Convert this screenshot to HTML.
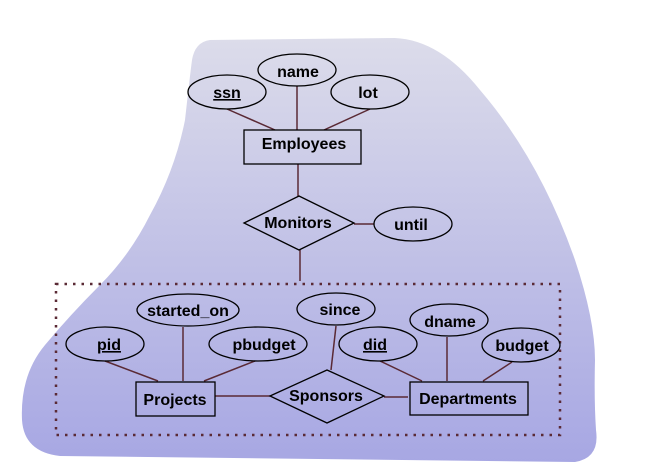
<!DOCTYPE html>
<html><head><meta charset="utf-8"><style>
html,body{margin:0;padding:0;background:#fff;width:659px;height:469px;overflow:hidden}
svg{display:block}
text{font-family:"Liberation Sans",Arial,sans-serif;font-weight:bold;font-size:16px;fill:#000}
</style></head><body>
<svg width="659" height="469" viewBox="0 0 659 469" xmlns="http://www.w3.org/2000/svg">
<defs>
<linearGradient id="g" x1="0" y1="0" x2="0" y2="1">
<stop offset="0" stop-color="#dcdcea"/>
<stop offset="1" stop-color="#a7a7e3"/>
</linearGradient>
</defs>
<path d="M210,40 L395,38 Q440,40 480,90 Q540,160 575,260 Q595,320 595,360 Q594,400 596,430 Q600,458 575,462 L60,456 Q24,452 22,420 Q20,375 45,345 Q70,315 100,285 Q130,255 150,215 Q175,170 185,120 Q190,75 192,60 Q195,42 210,40 Z" fill="url(#g)"/>
<g stroke="#5a2a35" stroke-width="1.5" fill="none">
<line x1="227" y1="109" x2="275" y2="130"/>
<line x1="297" y1="86" x2="297" y2="130"/>
<line x1="370" y1="109" x2="324" y2="130"/>
<line x1="298" y1="164" x2="298" y2="196"/>
<line x1="354" y1="224" x2="374" y2="224"/>
<line x1="300" y1="250" x2="300" y2="281"/>
<line x1="105" y1="361" x2="158" y2="381"/>
<line x1="183" y1="327" x2="183" y2="381"/>
<line x1="255" y1="361" x2="204" y2="381"/>
<line x1="215" y1="396" x2="270" y2="396"/>
<line x1="336" y1="326" x2="331" y2="370"/>
<line x1="384" y1="397" x2="408" y2="397"/>
<line x1="380" y1="361" x2="422" y2="381"/>
<line x1="447" y1="337" x2="447" y2="381"/>
<line x1="512" y1="362" x2="483" y2="381"/>
</g>
<rect x="56" y="284" width="504" height="151" fill="none" stroke="#5a2a35" stroke-width="2.5" stroke-dasharray="2.5,6"/>
<g stroke="#000" stroke-width="1.3" fill="none">
<ellipse cx="227" cy="92" rx="39" ry="17"/>
<ellipse cx="297" cy="70" rx="39" ry="16"/>
<ellipse cx="370" cy="92" rx="39" ry="17"/>
<rect x="244" y="130" width="117" height="34"/>
<polygon points="244,223 299,196 354,223 299,250"/>
<ellipse cx="413" cy="224" rx="39" ry="17"/>
<ellipse cx="188" cy="310" rx="51" ry="16"/>
<ellipse cx="105" cy="344" rx="39" ry="17"/>
<ellipse cx="258" cy="344" rx="49" ry="17"/>
<ellipse cx="336" cy="309" rx="39" ry="16"/>
<ellipse cx="449" cy="320" rx="39" ry="16"/>
<ellipse cx="378" cy="344" rx="39" ry="17"/>
<ellipse cx="521" cy="345" rx="39" ry="17"/>
<rect x="136" y="382" width="79" height="34"/>
<polygon points="270,396 327,370 384,396 327,423"/>
<rect x="410" y="382" width="118" height="33"/>
</g>
<text x="227" y="98" text-anchor="middle" text-decoration="underline">ssn</text>
<text x="298" y="77" text-anchor="middle">name</text>
<text x="368" y="98" text-anchor="middle">lot</text>
<text x="304" y="149" text-anchor="middle">Employees</text>
<text x="298" y="228" text-anchor="middle">Monitors</text>
<text x="411" y="230" text-anchor="middle">until</text>
<text x="188" y="316" text-anchor="middle">started_on</text>
<text x="109" y="350" text-anchor="middle" text-decoration="underline">pid</text>
<text x="264" y="350" text-anchor="middle">pbudget</text>
<text x="340" y="315" text-anchor="middle">since</text>
<text x="450" y="327" text-anchor="middle">dname</text>
<text x="375" y="350" text-anchor="middle" text-decoration="underline">did</text>
<text x="522" y="351" text-anchor="middle">budget</text>
<text x="175" y="405" text-anchor="middle">Projects</text>
<text x="326" y="401" text-anchor="middle">Sponsors</text>
<text x="468" y="404" text-anchor="middle">Departments</text>
</svg>
</body></html>
